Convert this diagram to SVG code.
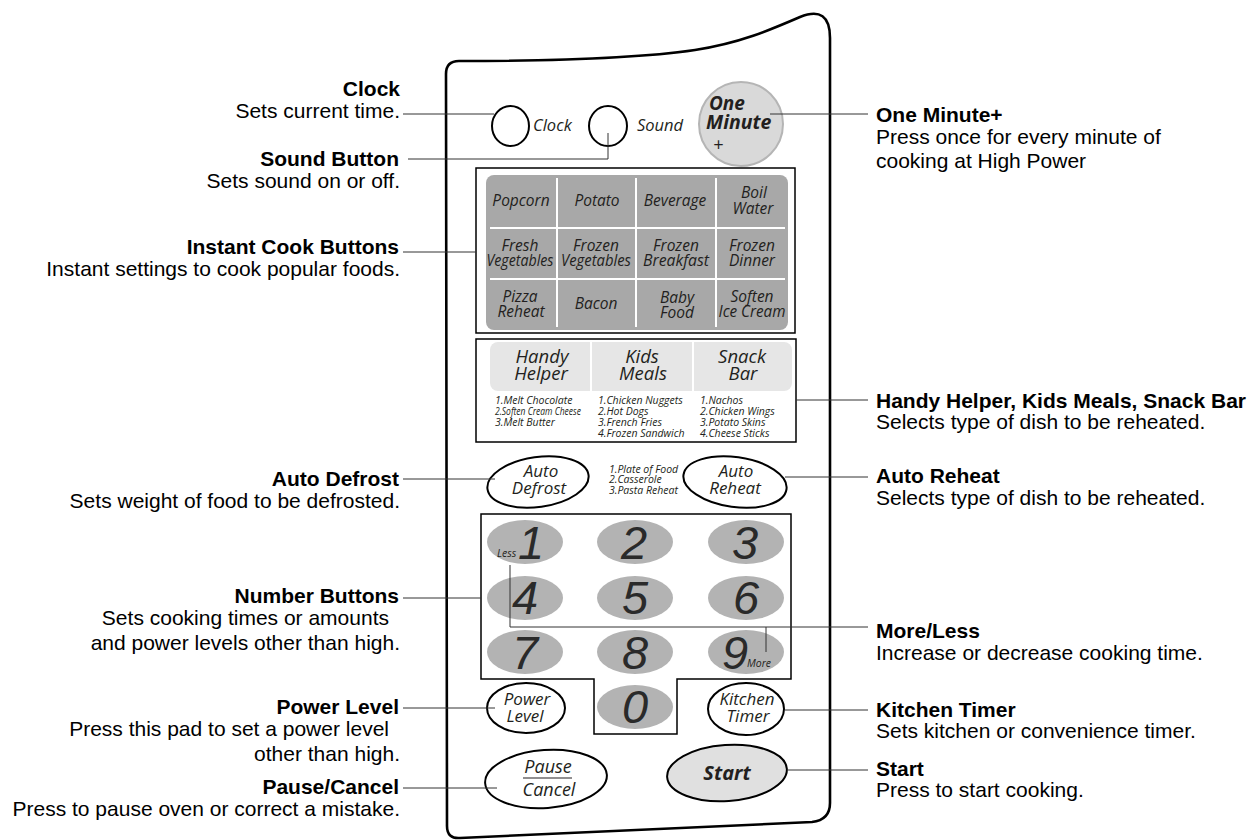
<svg xmlns="http://www.w3.org/2000/svg" width="1256" height="840" viewBox="0 0 1256 840">
<style>
.t{font-family:"Liberation Sans",Arial,sans-serif;font-size:21px;fill:#000}
.tb{font-family:"Liberation Sans",Arial,sans-serif;font-size:21px;font-weight:bold;fill:#000}
.e{text-anchor:end}
.k{font-family:"Open Sans","Noto Sans",sans-serif;font-style:italic;fill:#231f20;text-anchor:middle}
.ks{font-family:"Open Sans","Noto Sans",sans-serif;font-style:italic;fill:#231f20;font-size:10.5px}
.d{font-family:"Liberation Sans",Arial,sans-serif;font-style:italic;font-size:47px;fill:#2a2a2a;text-anchor:middle}
.btn{fill:#fff;stroke:#000;stroke-width:2}
.num{fill:#b3b3b3}
.c{stroke:#333;stroke-width:1;fill:none}
</style>

<g id="panel">
<path d="M446,74 Q446,61 459,61 C560,61 640,58 695,50 C740,43 770,30 800,17 Q830,5 830,38 L830,803 Q830,820 812,822 L460,838 Q447,839 447,826 Z" fill="#fff" stroke="#000" stroke-width="2.6"/>
</g>

<g id="clock-btn">
<ellipse class="btn" cx="510.5" cy="126" rx="18.5" ry="20"/>
<text class="k" x="533" y="131" font-size="16.5" style="text-anchor:start">Clock</text>
</g>
<g id="sound-btn">
<ellipse class="btn" cx="608" cy="126" rx="19" ry="20"/>
<text class="k" x="637" y="131" font-size="16.5" style="text-anchor:start">Sound</text>
</g>
<g id="one-minute-btn">
<circle cx="741" cy="124" r="42" fill="#d9d9d9" stroke="#b5b5b5" stroke-width="2"/>
<text class="k" x="709" y="110" font-size="19" font-weight="bold" style="text-anchor:start">One</text>
<text class="k" x="706" y="129" font-size="19.5" font-weight="bold" style="text-anchor:start">Minute</text>
<text class="k" x="713" y="151" font-size="18" style="text-anchor:start">+</text>
</g>

<g id="instant-cook">
<rect x="476" y="168" width="319" height="165" fill="#fff" stroke="#000" stroke-width="1.5"/>
<rect x="486" y="175" width="302" height="155" rx="8" fill="#a8a8a8"/>
<g stroke="#fff" stroke-width="2">
<line x1="557" y1="178" x2="557" y2="327"/>
<line x1="636" y1="178" x2="636" y2="327"/>
<line x1="716" y1="178" x2="716" y2="327"/>
<line x1="490" y1="228" x2="785" y2="228"/>
<line x1="490" y1="279" x2="785" y2="279"/>
</g>
<g font-size="15.5">
<text class="k" x="521" y="206">Popcorn</text>
<text class="k" x="597" y="206">Potato</text>
<text class="k" x="675" y="206">Beverage</text>
<text class="k" x="754" y="198">Boil</text>
<text class="k" x="753" y="214">Water</text>
<text class="k" x="520" y="251">Fresh</text>
<text class="k" x="520" y="266" textLength="67" lengthAdjust="spacingAndGlyphs">Vegetables</text>
<text class="k" x="596" y="251">Frozen</text>
<text class="k" x="596" y="266" textLength="70" lengthAdjust="spacingAndGlyphs">Vegetables</text>
<text class="k" x="676" y="251">Frozen</text>
<text class="k" x="676" y="266" textLength="66" lengthAdjust="spacingAndGlyphs">Breakfast</text>
<text class="k" x="752" y="251">Frozen</text>
<text class="k" x="752" y="266">Dinner</text>
<text class="k" x="520" y="302">Pizza</text>
<text class="k" x="521" y="317">Reheat</text>
<text class="k" x="596" y="309">Bacon</text>
<text class="k" x="677" y="303">Baby</text>
<text class="k" x="677" y="318">Food</text>
<text class="k" x="752" y="302">Soften</text>
<text class="k" x="752" y="317" textLength="67" lengthAdjust="spacingAndGlyphs">Ice Cream</text>
</g>
</g>

<g id="handy-kids-snack">
<rect x="476" y="339" width="320" height="103" fill="#fff" stroke="#000" stroke-width="1.5"/>
<rect x="490" y="342" width="302" height="49" rx="8" fill="#e6e6e6"/>
<g stroke="#fff" stroke-width="2">
<line x1="591" y1="342" x2="591" y2="391"/>
<line x1="693" y1="342" x2="693" y2="391"/>
</g>
<g font-size="18.5">
<text class="k" x="542" y="363">Handy</text>
<text class="k" x="541" y="380">Helper</text>
<text class="k" x="642" y="363">Kids</text>
<text class="k" x="643" y="380">Meals</text>
<text class="k" x="742" y="363">Snack</text>
<text class="k" x="743" y="380">Bar</text>
</g>
<text class="ks" x="495" y="404">1.Melt Chocolate</text>
<text class="ks" x="495" y="415" textLength="86" lengthAdjust="spacingAndGlyphs">2.Soften Cream Cheese</text>
<text class="ks" x="495" y="426">3.Melt Butter</text>
<text class="ks" x="598" y="404">1.Chicken Nuggets</text>
<text class="ks" x="598" y="415">2.Hot Dogs</text>
<text class="ks" x="598" y="426">3.French Fries</text>
<text class="ks" x="598" y="437">4.Frozen Sandwich</text>
<text class="ks" x="700" y="404">1.Nachos</text>
<text class="ks" x="700" y="415">2.Chicken Wings</text>
<text class="ks" x="700" y="426">3.Potato Skins</text>
<text class="ks" x="700" y="437">4.Cheese Sticks</text>
</g>

<g id="auto-defrost">
<ellipse class="btn" cx="538" cy="482" rx="51" ry="25" transform="rotate(-8 538 482)"/>
<text class="k" x="541" y="477" font-size="17">Auto</text>
<text class="k" x="539" y="494" font-size="17">Defrost</text>
</g>
<g id="auto-reheat-list">
<text class="ks" x="609" y="473">1.Plate of Food</text>
<text class="ks" x="609" y="483">2.Casserole</text>
<text class="ks" x="609" y="494">3.Pasta Reheat</text>
</g>
<g id="auto-reheat">
<ellipse class="btn" cx="735" cy="482" rx="52" ry="25" transform="rotate(8 735 482)"/>
<text class="k" x="736" y="477" font-size="17">Auto</text>
<text class="k" x="735" y="494" font-size="17">Reheat</text>
</g>

<g id="number-pad">
<polygon points="481,514 791,514 791,679 677,679 677,734 594,734 594,679 481,679" fill="none" stroke="#000" stroke-width="1.5"/>
<ellipse class="num" cx="525" cy="542" rx="38" ry="22"/>
<ellipse class="num" cx="635" cy="542" rx="38" ry="22"/>
<ellipse class="num" cx="746" cy="542" rx="38" ry="22"/>
<ellipse class="num" cx="525" cy="598" rx="38" ry="22"/>
<ellipse class="num" cx="635" cy="598" rx="38" ry="22"/>
<ellipse class="num" cx="746" cy="598" rx="38" ry="22"/>
<ellipse class="num" cx="525" cy="652" rx="38" ry="22"/>
<ellipse class="num" cx="635" cy="652" rx="38" ry="22"/>
<ellipse class="num" cx="746" cy="652" rx="38" ry="22"/>
<ellipse class="num" cx="635" cy="707" rx="38" ry="22"/>
<text class="d" x="531" y="559">1</text>
<text class="d" x="634" y="559">2</text>
<text class="d" x="745" y="559">3</text>
<text class="d" x="525" y="614">4</text>
<text class="d" x="635" y="614">5</text>
<text class="d" x="746" y="614">6</text>
<text class="d" x="525" y="669">7</text>
<text class="d" x="635" y="669">8</text>
<text class="d" x="735" y="669">9</text>
<text class="d" x="635" y="723">0</text>
<text class="ks" x="497" y="557" font-size="12">Less</text>
<text class="ks" x="747" y="667" font-size="12.5">More</text>
</g>

<g id="power-level">
<ellipse class="btn" cx="526" cy="708" rx="39" ry="25"/>
<text class="k" x="527" y="705" font-size="17">Power</text>
<text class="k" x="525" y="722" font-size="17">Level</text>
</g>
<g id="kitchen-timer">
<ellipse class="btn" cx="746" cy="709" rx="38" ry="26"/>
<text class="k" x="747" y="705" font-size="17">Kitchen</text>
<text class="k" x="748" y="722" font-size="17">Timer</text>
</g>
<g id="pause-cancel">
<ellipse class="btn" cx="546" cy="779" rx="61" ry="29" transform="rotate(-4 546 779)"/>
<text class="k" x="548" y="773" font-size="18">Pause</text>
<line x1="523" y1="778" x2="572" y2="778" stroke="#231f20" stroke-width="1.2"/>
<text class="k" x="549" y="796" font-size="18">Cancel</text>
</g>
<g id="start">
<ellipse cx="727" cy="773" rx="60" ry="28" transform="rotate(-4 727 773)" fill="#e0e0e0" stroke="#000" stroke-width="2"/>
<text class="k" x="727" y="780" font-size="20" font-weight="bold">Start</text>
</g>

<g id="connectors">
<line class="c" x1="403" y1="114" x2="494" y2="114"/>
<polyline class="c" points="408,159 608,159 608,133"/>
<line class="c" x1="403" y1="252" x2="476" y2="252"/>
<line class="c" x1="403" y1="479" x2="495" y2="479"/>
<line class="c" x1="403" y1="598" x2="481" y2="598"/>
<line class="c" x1="403" y1="708" x2="495" y2="708"/>
<line class="c" x1="403" y1="788" x2="497" y2="788"/>
<line class="c" x1="770" y1="114" x2="868" y2="114"/>
<line class="c" x1="796" y1="400" x2="868" y2="400"/>
<line class="c" x1="785" y1="477" x2="868" y2="477"/>
<polyline class="c" points="510,565 510,627 868,627"/>
<line class="c" x1="766" y1="627" x2="766" y2="652"/>
<line class="c" x1="785" y1="710" x2="868" y2="710"/>
<line class="c" x1="787" y1="770" x2="868" y2="770"/>
</g>

<g id="label-clock"><text class="tb e" x="400" y="96">Clock</text><text class="t e" x="400" y="118">Sets current time.</text></g>
<g id="label-sound"><text class="tb e" x="399" y="166">Sound Button</text><text class="t e" x="400" y="188">Sets sound on or off.</text></g>
<g id="label-instant"><text class="tb e" x="399" y="254">Instant Cook Buttons</text><text class="t e" x="400" y="276">Instant settings to cook popular foods.</text></g>
<g id="label-defrost"><text class="tb e" x="399" y="486">Auto Defrost</text><text class="t e" x="400" y="508">Sets weight of food to be defrosted.</text></g>
<g id="label-number"><text class="tb e" x="399" y="603">Number Buttons</text><text class="t e" x="389" y="625">Sets cooking times or amounts</text><text class="t e" x="400" y="650">and power levels other than high.</text></g>
<g id="label-power"><text class="tb e" x="399" y="714">Power Level</text><text class="t e" x="389" y="736">Press this pad to set a power level</text><text class="t e" x="400" y="761">other than high.</text></g>
<g id="label-pause"><text class="tb e" x="399" y="794">Pause/Cancel</text><text class="t e" x="400" y="816">Press to pause oven or correct a mistake.</text></g>

<g id="label-oneminute"><text class="tb" x="876" y="122">One Minute+</text><text class="t" x="876" y="144">Press once for every minute of</text><text class="t" x="876" y="168">cooking at High Power</text></g>
<g id="label-handy"><text class="tb" x="876" y="408">Handy Helper, Kids Meals, Snack Bar</text><text class="t" x="876" y="429">Selects type of dish to be reheated.</text></g>
<g id="label-reheat"><text class="tb" x="876" y="483">Auto Reheat</text><text class="t" x="876" y="505">Selects type of dish to be reheated.</text></g>
<g id="label-moreless"><text class="tb" x="876" y="638">More/Less</text><text class="t" x="876" y="660">Increase or decrease cooking time.</text></g>
<g id="label-timer"><text class="tb" x="876" y="717">Kitchen Timer</text><text class="t" x="876" y="738">Sets kitchen or convenience timer.</text></g>
<g id="label-start"><text class="tb" x="876" y="776">Start</text><text class="t" x="876" y="797">Press to start cooking.</text></g>
</svg>
